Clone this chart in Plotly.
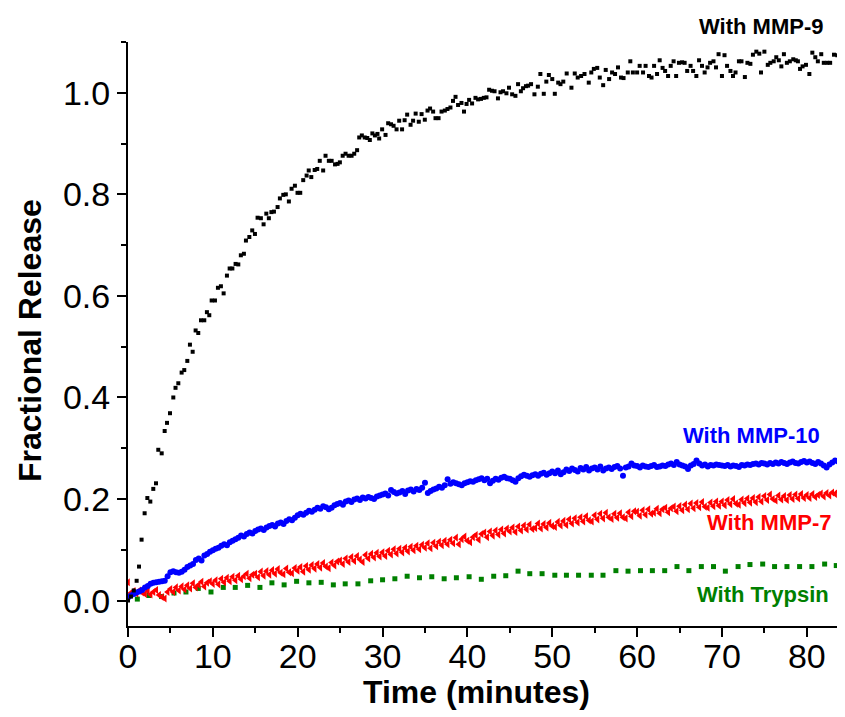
import plotly.graph_objects as go

# ---------------- data ----------------
# With MMP-9 : (time, fractional release) pairs
mmp9_time = [0.0, 0.35, 0.68, 1.02, 1.3, 1.6, 1.96, 2.28, 2.63, 2.98, 3.3, 3.57, 3.97, 4.32, 4.6, 4.95,
             5.34, 5.6, 5.93, 6.32, 6.63, 6.99, 7.3, 7.62, 7.97, 8.28, 8.6, 8.99, 9.3, 9.58, 9.86,
             10.25, 10.6, 10.95, 11.27, 11.66, 11.98, 12.3, 12.68, 13.0, 13.3, 13.66, 13.9, 14.3, 14.64,
             14.96, 15.27, 15.66, 15.98, 16.3, 16.6, 16.9, 17.2, 17.63, 17.9, 18.3, 18.6, 18.96, 19.28,
             19.67, 19.98, 20.3, 20.65, 21.05, 21.3, 21.6, 22.0, 22.3, 22.6, 23.0, 23.28, 23.67, 24.0,
             24.4, 24.7, 24.97, 25.3, 25.64, 26.0, 26.35, 26.66, 27.0, 27.25, 27.56, 27.9, 28.2, 28.5,
             28.8, 29.1, 29.4, 29.6, 29.95, 30.35, 30.66, 31.0, 31.3, 31.65, 31.96, 32.3, 32.6, 32.9,
             33.3, 33.6, 33.9, 34.27, 34.6, 34.98, 35.3, 35.6, 35.96, 36.24, 36.6, 36.95, 37.34, 37.65,
             38.0, 38.3, 38.6, 38.9, 39.3, 39.6, 39.9, 40.2, 40.55, 40.95, 41.26, 41.6, 41.93, 42.25,
             42.56, 42.9, 43.2, 43.6, 43.9, 44.2, 44.6, 44.9, 45.27, 45.66, 45.97, 46.3, 46.56, 46.9,
             47.15, 47.5, 47.9, 48.3, 48.6, 49.0, 49.3, 49.6, 50.0, 50.3, 50.7, 50.97, 51.3, 51.7,
             52.26, 52.65, 53.0, 53.4, 53.8, 54.3, 54.6, 54.9, 55.3, 55.6, 56.0, 56.3, 56.7, 57.05,
             57.4, 57.75, 58.1, 58.4, 58.9, 59.2, 59.5, 60.0, 60.3, 60.7, 61.0, 61.4, 61.7, 62.0,
             62.35, 62.66, 63.0, 63.3, 63.65, 63.96, 64.3, 64.6, 64.93, 65.3, 65.6, 65.9, 66.3, 66.6,
             66.98, 67.3, 67.65, 67.96, 68.3, 68.6, 69.0, 69.3, 69.6, 70.0, 70.3, 70.6, 71.0, 71.3,
             71.6, 72.0, 72.3, 72.7, 73.0, 73.35, 73.65, 74.05, 74.4, 74.6, 75.0, 75.4, 75.7, 76.1,
             76.4, 76.7, 77.0, 77.3, 77.65, 78.0, 78.4, 78.7, 78.95, 79.2, 79.5, 79.9, 80.3, 80.65,
             81.0, 81.3, 81.7, 82.0, 82.4, 82.75, 83.2, 83.6, 84.1, 84.4]
mmp9_release = [0.0, 0.008, 0.02, 0.039, 0.067, 0.12, 0.172, 0.202, 0.195, 0.22, 0.231, 0.297, 0.29, 0.334, 0.35, 0.369,
                0.40, 0.419, 0.428, 0.449, 0.454, 0.472, 0.504, 0.49, 0.532, 0.527, 0.552, 0.552, 0.568, 0.562, 0.591,
                0.591, 0.616, 0.619, 0.605, 0.64, 0.654, 0.654, 0.663, 0.662, 0.68, 0.683, 0.709, 0.716, 0.729,
                0.722, 0.754, 0.753, 0.741, 0.762, 0.753, 0.765, 0.766, 0.775, 0.792, 0.799, 0.80, 0.786, 0.811,
                0.817, 0.803, 0.803, 0.828, 0.837, 0.847, 0.834, 0.848, 0.85, 0.866, 0.847, 0.876, 0.866, 0.866,
                0.859, 0.86, 0.863, 0.876, 0.88, 0.876, 0.876, 0.88, 0.887, 0.912, 0.916, 0.912, 0.911, 0.907,
                0.92, 0.916, 0.919, 0.91, 0.928, 0.917, 0.94, 0.938, 0.935, 0.928, 0.945, 0.928, 0.946, 0.957,
                0.937, 0.945, 0.959, 0.943, 0.958, 0.947, 0.965, 0.969, 0.963, 0.95, 0.95, 0.963, 0.965, 0.968,
                0.971, 0.984, 0.992, 0.976, 0.98, 0.963, 0.978, 0.986, 0.979, 0.99, 0.987, 0.988, 0.99, 0.991,
                1.006, 1.004, 1.003, 0.989, 1.001, 1.003, 0.999, 1.01, 0.997, 0.994, 1.017, 1.003, 1.009, 1.013,
                1.014, 1.017, 0.997, 1.012, 1.037, 0.998, 1.022, 1.035, 1.027, 0.998, 1.02, 1.017, 1.022, 1.038,
                1.01, 1.038, 1.03, 1.033, 1.037, 1.02, 1.04, 1.047, 1.049, 1.03, 1.015, 1.045, 1.027, 1.04,
                1.037, 1.05, 1.03, 1.029, 1.04, 1.062, 1.04, 1.04, 1.053, 1.04, 1.053, 1.033, 1.03, 1.053,
                1.037, 1.064, 1.049, 1.043, 1.033, 1.053, 1.062, 1.033, 1.059, 1.06, 1.059, 1.043, 1.053, 1.043,
                1.033, 1.064, 1.053, 1.04, 1.05, 1.059, 1.062, 1.05, 1.076, 1.033, 1.074, 1.053, 1.043, 1.033,
                1.04, 1.062, 1.062, 1.031, 1.059, 1.057, 1.075, 1.081, 1.077, 1.04, 1.081, 1.055, 1.059, 1.062,
                1.07, 1.064, 1.052, 1.076, 1.059, 1.062, 1.066, 1.064, 1.062, 1.047, 1.052, 1.055, 1.037, 1.079,
                1.07, 1.062, 1.076, 1.059, 1.059, 1.059, 1.075, 1.074, 1.062, 1.058]

# MMP-10 and MMP-7 were sampled every 20 s (1/3 min), starting at t = 0
SAMPLE_INTERVAL_MIN = 1.0 / 3.0
mmp10_release = [
    0.006, 0.010, 0.013, 0.016, 0.018, 0.021, 0.026, 0.029, 0.033, 0.035, 0.036, 0.037, 0.038, 0.039, 0.048,
    0.056, 0.058, 0.056, 0.055, 0.057, 0.061, 0.066, 0.069, 0.072, 0.080, 0.083, 0.079, 0.089, 0.092, 0.096,
    0.099, 0.102, 0.104, 0.108, 0.111, 0.109, 0.115, 0.118, 0.121, 0.124, 0.128, 0.126, 0.131, 0.134, 0.132,
    0.137, 0.140, 0.142, 0.139, 0.144, 0.147, 0.149, 0.146, 0.152, 0.154, 0.151, 0.157, 0.160, 0.158, 0.163,
    0.168, 0.171, 0.169, 0.173, 0.177, 0.175, 0.179, 0.183, 0.181, 0.186, 0.184, 0.180, 0.183, 0.188, 0.190,
    0.192, 0.189, 0.195, 0.197, 0.194, 0.199, 0.201, 0.198, 0.203, 0.201, 0.204, 0.202, 0.200, 0.205, 0.207,
    0.209, 0.211, 0.207, 0.218, 0.214, 0.211, 0.213, 0.216, 0.210, 0.217, 0.219, 0.215, 0.220, 0.218, 0.222,
    0.232, 0.212, 0.216, 0.219, 0.221, 0.224, 0.222, 0.227, 0.239, 0.230, 0.233, 0.231, 0.229, 0.227, 0.231,
    0.233, 0.235, 0.234, 0.237, 0.239, 0.241, 0.237, 0.240, 0.231, 0.236, 0.240, 0.238, 0.242, 0.244, 0.241,
    0.240, 0.237, 0.234, 0.241, 0.245, 0.248, 0.246, 0.244, 0.247, 0.249, 0.246, 0.250, 0.252, 0.248, 0.251,
    0.254, 0.251, 0.256, 0.249, 0.253, 0.258, 0.255, 0.260, 0.257, 0.254, 0.261, 0.258, 0.263, 0.256, 0.260,
    0.262, 0.258, 0.264, 0.256, 0.260, 0.262, 0.259, 0.263, 0.265, 0.260, 0.246, 0.262, 0.264, 0.270, 0.266,
    0.265, 0.262, 0.266, 0.264, 0.263, 0.265, 0.267, 0.263, 0.264, 0.266, 0.265, 0.268, 0.270, 0.267, 0.273,
    0.268, 0.266, 0.264, 0.259, 0.266, 0.269, 0.276, 0.270, 0.266, 0.268, 0.264, 0.267, 0.266, 0.268, 0.267,
    0.266, 0.265, 0.267, 0.264, 0.266, 0.265, 0.263, 0.267, 0.266, 0.268, 0.267, 0.269, 0.270, 0.268, 0.271,
    0.270, 0.268, 0.271, 0.269, 0.272, 0.270, 0.273, 0.271, 0.269, 0.272, 0.274, 0.271, 0.270, 0.273, 0.275,
    0.272, 0.274, 0.271, 0.269, 0.273, 0.270, 0.266, 0.262, 0.268, 0.272, 0.276, 0.274, 0.277, 0.278]

mmp7_release = [
    0.036, 0.015, 0.019, 0.014, 0.020, 0.016, 0.013, 0.019, 0.012, 0.017, 0.021, 0.011, 0.007, 0.004, 0.017,
    0.023, 0.017, 0.026, 0.020, 0.028, 0.022, 0.030, 0.024, 0.034, 0.026, 0.031, 0.037, 0.028, 0.035, 0.038,
    0.033, 0.040, 0.032, 0.043, 0.036, 0.045, 0.038, 0.047, 0.040, 0.049, 0.042, 0.048, 0.053, 0.044, 0.051,
    0.053, 0.046, 0.057, 0.049, 0.058, 0.051, 0.060, 0.053, 0.062, 0.055, 0.052, 0.063, 0.056, 0.054, 0.064,
    0.059, 0.066, 0.057, 0.068, 0.061, 0.070, 0.063, 0.072, 0.065, 0.074, 0.067, 0.064, 0.075, 0.069, 0.077,
    0.079, 0.072, 0.083, 0.076, 0.086, 0.078, 0.088, 0.081, 0.076, 0.090, 0.083, 0.092, 0.085, 0.094, 0.087,
    0.095, 0.088, 0.098, 0.091, 0.101, 0.093, 0.102, 0.095, 0.104, 0.097, 0.106, 0.099, 0.108, 0.101, 0.110,
    0.104, 0.113, 0.103, 0.114, 0.107, 0.116, 0.109, 0.118, 0.111, 0.120, 0.113, 0.124, 0.111, 0.121, 0.126,
    0.118, 0.115, 0.125, 0.129, 0.120, 0.131, 0.134, 0.125, 0.136, 0.128, 0.138, 0.130, 0.140, 0.132, 0.142,
    0.136, 0.144, 0.135, 0.146, 0.138, 0.148, 0.140, 0.150, 0.141, 0.143, 0.152, 0.142, 0.151, 0.144, 0.153,
    0.147, 0.145, 0.155, 0.148, 0.157, 0.149, 0.160, 0.152, 0.162, 0.154, 0.164, 0.156, 0.166, 0.158, 0.156,
    0.168, 0.160, 0.171, 0.162, 0.173, 0.164, 0.161, 0.171, 0.163, 0.172, 0.164, 0.162, 0.174, 0.166, 0.176,
    0.175, 0.167, 0.178, 0.169, 0.180, 0.171, 0.173, 0.181, 0.172, 0.180, 0.183, 0.174, 0.182, 0.185, 0.176,
    0.186, 0.178, 0.189, 0.180, 0.191, 0.182, 0.192, 0.184, 0.194, 0.185, 0.183, 0.193, 0.186, 0.195, 0.187,
    0.195, 0.188, 0.198, 0.190, 0.200, 0.191, 0.189, 0.199, 0.192, 0.201, 0.193, 0.202, 0.194, 0.204, 0.195,
    0.206, 0.198, 0.209, 0.200, 0.197, 0.207, 0.199, 0.206, 0.198, 0.208, 0.200, 0.209, 0.201, 0.210, 0.202,
    0.208, 0.202, 0.210, 0.204, 0.208, 0.211, 0.205, 0.212, 0.207, 0.213, 0.210, 0.215, 0.214, 0.217]

# With Trypsin : (time, fractional release)
trypsin_time = [1.1, 2.47, 3.96, 5.42, 6.83, 8.28, 9.78, 11.23, 12.64, 14.1, 15.55, 16.96, 18.4, 19.87,
                21.32, 22.77, 24.2, 25.6, 27.1, 28.6, 30.0, 31.45, 32.9, 34.35, 35.8, 37.26, 38.7, 40.2,
                41.64, 43.1, 44.52, 45.97, 47.35, 48.8, 50.3, 51.67, 53.1, 54.6, 55.98, 57.5, 58.93,
                60.4, 61.8, 63.25, 64.7, 66.1, 67.57, 69.0, 70.4, 71.9, 73.3, 74.8, 76.2, 77.66, 79.15,
                80.6, 82.1, 83.47]
trypsin_release = [0.003, 0.010, 0.008, 0.015, 0.017, 0.024, 0.017, 0.026, 0.026, 0.030, 0.026, 0.035, 0.031,
                   0.038, 0.035, 0.036, 0.031, 0.033, 0.033, 0.039, 0.041, 0.043, 0.048, 0.045, 0.047, 0.043,
                   0.045, 0.047, 0.042, 0.048, 0.049, 0.058, 0.053, 0.053, 0.050, 0.050, 0.050, 0.050, 0.050,
                   0.059, 0.058, 0.059, 0.059, 0.059, 0.067, 0.059, 0.067, 0.067, 0.058, 0.067, 0.071, 0.072,
                   0.067, 0.067, 0.067, 0.067, 0.072, 0.069]

series_labels = ["With MMP-9", "With MMP-10", "With MMP-7", "With Trypsin"]
x_tick_values = [0, 10, 20, 30, 40, 50, 60, 70, 80]
y_tick_values = [0.0, 0.2, 0.4, 0.6, 0.8, 1.0]
x_title = "Time (minutes)"
y_title = "Fractional Release"

# ---------------- figure ----------------
mmp10_time = [i * SAMPLE_INTERVAL_MIN for i in range(len(mmp10_release))]
mmp7_time = [i * SAMPLE_INTERVAL_MIN for i in range(len(mmp7_release))]

FONT = "Arial, Liberation Sans, sans-serif"
fig = go.Figure()
fig.add_trace(go.Scatter(x=trypsin_time, y=trypsin_release, mode="markers", name=series_labels[3],
                         marker=dict(symbol="square", size=5, color="#008000", line=dict(width=0))))
fig.add_trace(go.Scatter(x=mmp7_time, y=mmp7_release, mode="markers", name=series_labels[2],
                         marker=dict(symbol="triangle-left", size=7, color="#ff0000", line=dict(width=0))))
fig.add_trace(go.Scatter(x=mmp10_time, y=mmp10_release, mode="markers", name=series_labels[1],
                         marker=dict(symbol="circle", size=6, color="#0000ff", line=dict(width=0))))
fig.add_trace(go.Scatter(x=mmp9_time, y=mmp9_release, mode="markers", name=series_labels[0],
                         marker=dict(symbol="square", size=4, color="#000000", line=dict(width=0))))

axis_common = dict(showline=True, linecolor="black", linewidth=2, showgrid=False, zeroline=False,
                   automargin=False,
                   ticks="outside", ticklen=9, tickwidth=2, tickcolor="black",
                   tickfont=dict(family=FONT, size=34, color="black"))
fig.update_xaxes(range=[0, 84.5], tickvals=x_tick_values, ticklabelstandoff=-10, **axis_common,
                 minor=dict(ticks="outside", ticklen=5, tickwidth=2, tickcolor="black", dtick=5, tick0=0))
fig.update_yaxes(range=[-0.05, 1.1], tickvals=y_tick_values, tickformat=".1f", **axis_common,
                 minor=dict(ticks="outside", ticklen=5, tickwidth=2, tickcolor="black", dtick=0.1, tick0=0))

label_font = dict(family=FONT, size=22)
annotations = [
    dict(text=f"<b>{x_title}</b>", x=0.4854, y=-0.113, xref="paper", yref="paper", showarrow=False,
         xanchor="center", yanchor="middle", font=dict(family=FONT, size=32, color="black")),
    dict(text=f"<b>{y_title}</b>", x=-0.1367, y=0.4897, xref="paper", yref="paper", showarrow=False,
         textangle=-90, xanchor="center", yanchor="middle", font=dict(family=FONT, size=32, color="black")),
    dict(text=f"<b>{series_labels[0]}</b>", x=0.8828, y=1.0257, xref="paper", yref="paper", showarrow=False,
         xanchor="center", yanchor="middle", font=dict(**label_font, color="#000000")),
    dict(text=f"<b>{series_labels[1]}</b>", x=0.869, y=0.327, xref="paper", yref="paper", showarrow=False,
         xanchor="center", yanchor="middle", font=dict(**label_font, color="#0000ff")),
    dict(text=f"<b>{series_labels[2]}</b>", x=0.894, y=0.1764, xref="paper", yref="paper", showarrow=False,
         xanchor="center", yanchor="middle", font=dict(**label_font, color="#ff0000")),
    dict(text=f"<b>{series_labels[3]}</b>", x=0.8856, y=0.0531, xref="paper", yref="paper", showarrow=False,
         xanchor="center", yanchor="middle", font=dict(**label_font, color="#008000")),
]

# The page body adds an 8 px margin, so the figure is 8 px smaller on each leading edge.
fig.update_layout(width=837, height=709, margin=dict(l=120, r=0, t=34, b=91, autoexpand=False),
                  paper_bgcolor="white", plot_bgcolor="white", showlegend=False,
                  annotations=annotations, font=dict(family=FONT))

fig.write_html("out.html")
